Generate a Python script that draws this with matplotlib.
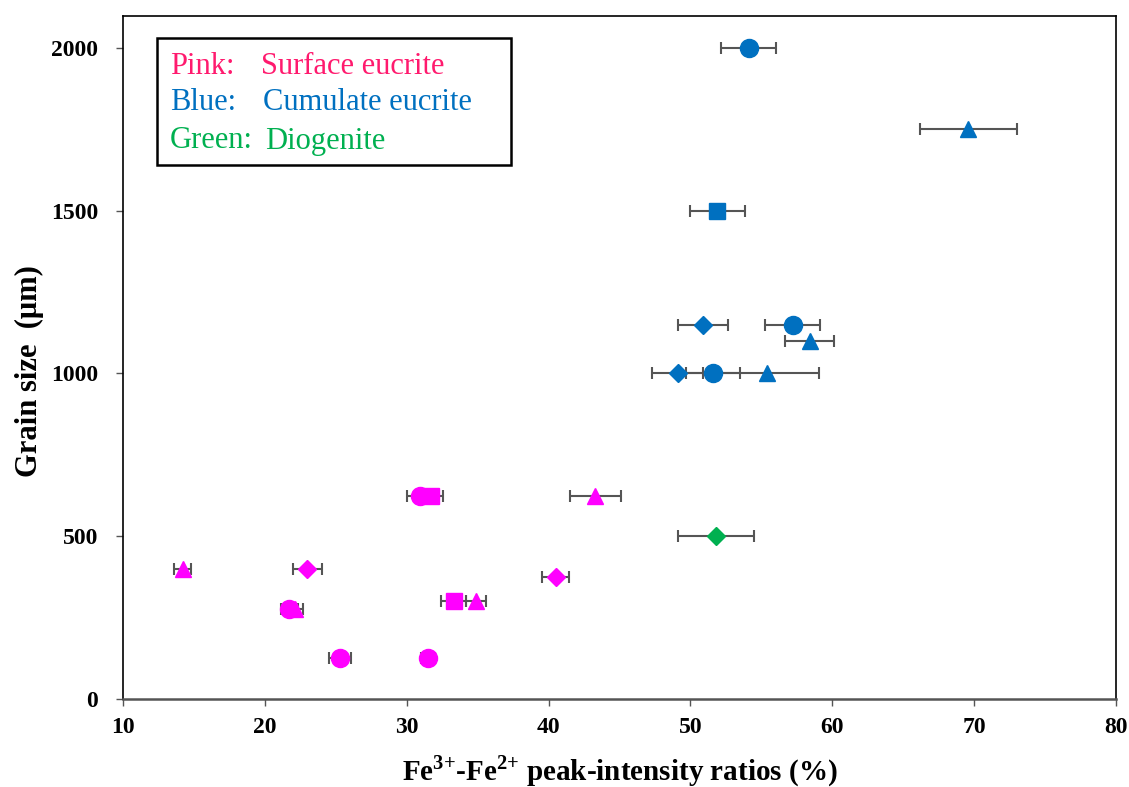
import matplotlib
matplotlib.use("Agg")
import matplotlib.pyplot as plt
from matplotlib.patches import Rectangle

plt.rcParams['font.family'] = ['Liberation Serif', 'DejaVu Serif']
plt.rcParams['mathtext.fontset'] = 'custom'
plt.rcParams['mathtext.rm'] = 'Liberation Serif'
plt.rcParams['mathtext.bf'] = 'Liberation Serif:bold'

# Surface eucrite (pink)
surface_x = [14.2, 23.0, 21.7, 22.1, 25.3, 31.5, 30.9, 31.7, 43.3, 40.5, 33.3, 34.9]
surface_y = [400, 400, 275, 275, 125, 125, 625, 625, 625, 375, 300, 300]
surface_err = [0.6, 1.05, 0.6, 0.6, 0.8, 0.5, 0.85, 0.85, 1.8, 0.95, 0.9, 0.7]
surface_marker = ['^', 'D', 'o', '^', 'o', 'o', 'o', 's', '^', 'D', 's', '^']

# Cumulate eucrite (blue)
cumulate_x = [54.1, 69.6, 51.9, 50.9, 57.2, 58.4, 49.1, 51.6, 55.4]
cumulate_y = [2000, 1750, 1500, 1150, 1150, 1100, 1000, 1000, 1000]
cumulate_err = [1.95, 3.4, 1.95, 1.75, 1.95, 1.75, 1.8, 1.9, 3.65]
cumulate_marker = ['o', '^', 's', 'D', 'o', '^', 'D', 'o', '^']

# Diogenite (green)
diogenite_x = [51.8]
diogenite_y = [500]
diogenite_err = [2.7]
diogenite_marker = ['D']

PINK = '#FF00FF'
BLUE = '#0070C0'
GREEN = '#00B050'

marker_size = {'o': 13, '^': 12, 's': 11.5, 'D': 9}

fig = plt.figure(figsize=(11.29, 7.87), dpi=100)
ax = fig.add_axes([0.109, 0.1118, 0.8795, 0.8679])


def draw_group(xs, ys, errs, markers, color):
    for x, y, e in zip(xs, ys, errs):
        ax.errorbar(x, y, xerr=e, fmt='none', ecolor='#555555',
                    elinewidth=1.5, capsize=4, capthick=1.5, zorder=2)
    for x, y, m in zip(xs, ys, markers):
        ax.plot(x, y, marker=m, color=color, markersize=marker_size[m],
                markeredgecolor=color, linestyle='none', zorder=3)


draw_group(surface_x, surface_y, surface_err, surface_marker, PINK)
draw_group(cumulate_x, cumulate_y, cumulate_err, cumulate_marker, BLUE)
draw_group(diogenite_x, diogenite_y, diogenite_err, diogenite_marker, GREEN)

ax.set_xlim(10, 80)
ax.set_ylim(0, 2098)
ax.set_xticks(range(10, 81, 10))
ax.set_yticks([0, 500, 1000, 1500, 2000])
ax.tick_params(axis='both', direction='out', length=5, width=1,
               labelsize=17, colors='#555555', labelcolor='black')
ax.tick_params(axis='x', pad=8)
ax.tick_params(axis='y', pad=13)
for lbl in ax.get_xticklabels() + ax.get_yticklabels():
    lbl.set_fontweight('bold')
for sp in ax.spines.values():
    sp.set_linewidth(1.2)
    sp.set_color('black')
ax.spines['bottom'].set_color('#555555')
ax.spines['bottom'].set_linewidth(1.8)

ax.set_xlabel(r'Fe$^{\mathbf{3{+}}}$-Fe$^{\mathbf{2{+}}}$ peak-intensity ratios (%)',
              fontsize=21, fontweight='bold', va='center')
ax.xaxis.set_label_coords(0.5, -0.106)
ax.set_ylabel('Grain size  (μm)', fontsize=22, fontweight='bold', va='center')
ax.yaxis.set_label_coords(-0.094, 0.48)

# Colour key box
W, H = 1129, 787
fig.patches.append(Rectangle((157 / W, 1 - 165 / H), (511 - 157) / W, (165 - 38) / H,
                             transform=fig.transFigure, facecolor='white',
                             edgecolor='black', linewidth=1.8, zorder=5))
key_rows = [
    ('Pink:', 'Surface eucrite', '#FF1A6E', 66, 261),
    ('Blue:', 'Cumulate eucrite', '#0070C0', 103, 263),
    ('Green:', 'Diogenite', '#00B050', 141, 265),
]
for head, desc, col, ypx, xpx in key_rows:
    fig.text(170 / W, 1 - ypx / H, head, color=col, fontsize=22,
             va='center', ha='left', zorder=6)
    fig.text(xpx / W, 1 - ypx / H, desc, color=col, fontsize=22,
             va='center', ha='left', zorder=6)

fig.savefig('out.png', dpi=100)
